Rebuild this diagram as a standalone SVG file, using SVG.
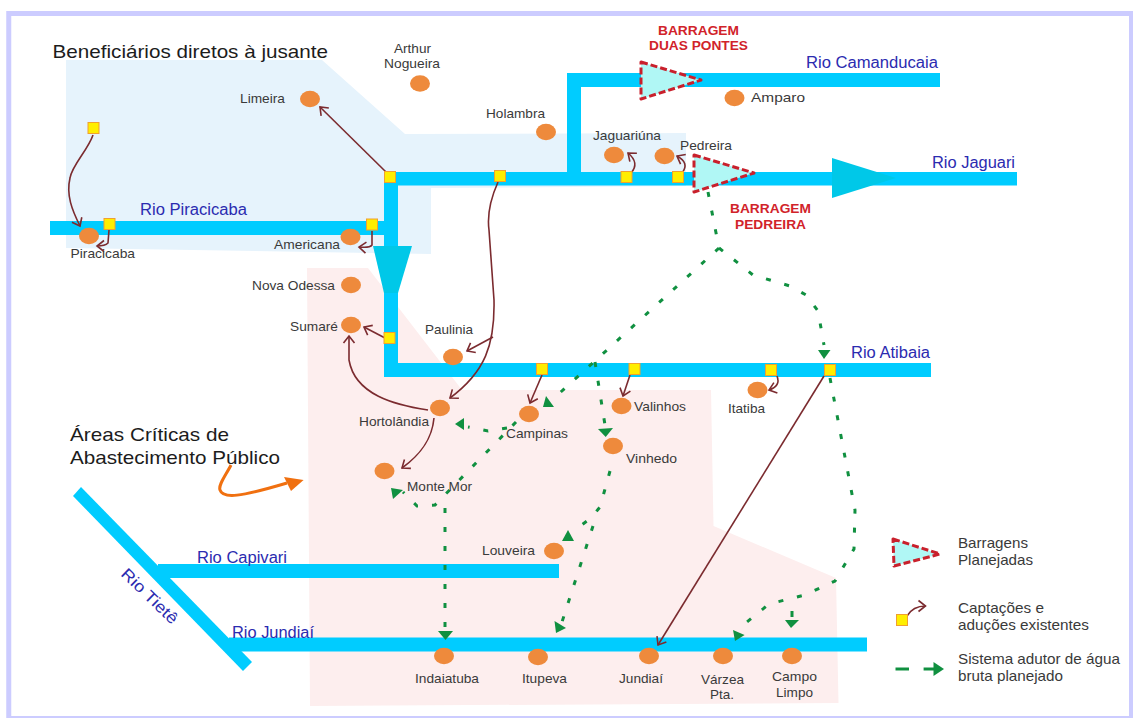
<svg xmlns="http://www.w3.org/2000/svg" width="1133" height="718" viewBox="0 0 1133 718">
<style>
text{font-family:"Liberation Sans",Arial,sans-serif}
.n{font-size:13.2px;fill:#3a3a3a}
.r{font-size:16px;fill:#2b2bb0}
.b{font-size:13px;font-weight:bold;fill:#d1232a}
.l{font-size:14.5px;fill:#3a3a3a}
.h{font-size:19px;fill:#1c1c1c}
.c{fill:#ee8a3c}
.s{fill:#ffee00;stroke:#f0a030;stroke-width:1}
.riv{fill:#00ccff}
.d{fill:#b0f7f5;stroke:#c9202c;stroke-width:3;stroke-dasharray:7 3;stroke-linejoin:round}
.a{fill:none;stroke:#7b2b2f;stroke-width:1.6;marker-end:url(#o)}
.g{fill:none;stroke:#109040;stroke-width:3;stroke-dasharray:5 14}
.gs{fill:none;stroke:#109040;stroke-width:3}
.gh{fill:#109040}
</style>
<defs>
<marker id="o" markerUnits="userSpaceOnUse" markerWidth="14" markerHeight="14" refX="12" refY="7" orient="auto">
<path d="M5 1.500L12 7L5 12.500" fill="none" stroke="#7b2b2f" stroke-width="1.6"/>
</marker>
</defs>
<rect x="0" y="0" width="1133" height="718" fill="#fff"/>
<rect x="8.750" y="13.500" width="1122.750" height="705" fill="#fff" stroke="#ccccff" stroke-width="5"/>
<g id="areas">
<polygon fill="#e6f3fc" points="66,60 322,60 405,134 686,133 686,186 431,188 431,254 66,248"/>
<polygon fill="#fdeeee" points="307,268 368,268 462,390 711,390 713.5,526 836,578 838.5,703 310,706"/>
</g>
<g id="rivers">
<rect class="riv" x="50" y="221" width="335" height="14"/>
<rect class="riv" x="384" y="172" width="633" height="13.500"/>
<rect class="riv" x="567" y="73" width="373" height="14"/>
<rect class="riv" x="567" y="73" width="14" height="102"/>
<rect class="riv" x="384" y="172" width="14" height="205"/>
<rect class="riv" x="385" y="363" width="546" height="14"/>
<polygon fill="#00c8e8" points="373,246 412,246 398,293 384,293"/>
<polygon fill="#00c8e8" points="832,158 832,198 896,178"/>
<rect class="riv" x="158" y="564" width="401" height="14"/>
<rect class="riv" x="229" y="637.500" width="638" height="14"/>
<polygon class="riv" points="73,496 81,487 252,662 243,671"/>
</g>
<g id="connectors">
<path class="a" d="M93 135C88 150 72 165 70 178C66 195 72 210 80 226"/>
<path class="a" d="M109 230L108 243Q105 246 97 246"/>
<path class="a" d="M372 231L372 245Q370 248 359 247"/>
<path class="a" d="M386 172L320 107"/>
<path class="a" d="M385 338L364 327"/>
<path class="a" d="M428 410C395 405 355 395 349 360L349 336"/>
<path class="a" d="M434 418C432 440 420 455 402 468"/>
<path class="a" d="M498 182C490 200 487 215 489 230L494 300C495 345 485 372 450 398"/>
<path class="a" d="M493 337L467 351"/>
<path class="a" d="M542 375L530 403"/>
<path class="a" d="M630 375L623 396"/>
<path class="a" d="M777 376Q781 386 769 390"/>
<path class="a" d="M631 173Q640 163 628 153"/>
<path class="a" d="M682 173Q690 163 677 156"/>
<path class="a" d="M824 376L658 645"/>
<path class="a" d="M907 616Q913 606 925.5 606"/>
<path d="M231 465C226 475 218 485 220 490C223 499 240 497 287 483" fill="none" stroke="#f07010" stroke-width="3"/>
<polygon fill="#f07010" points="303.6,480 284,477 291,491"/>
<path class="g" d="M708 192L719 248L552 400"/>
<path class="g" d="M719 248L738 263L753 275L790 286L806 295L818 311L824 345"/>
<path class="g" d="M595 362L605 425"/>
<path class="g" d="M516 422L435 505L417 506L403 492"/>
<path class="g" d="M507 428L488 431L468 427"/>
<path class="g" d="M445 508L445 632"/>
<path class="g" d="M610 471L600 507L591 518L572 532"/>
<path class="g" d="M593 526L562 622"/>
<path class="g" d="M830 378L855 510L854 549L835 581L805 595L769 604L742 626"/>
<path class="gs" d="M792 611L792 617"/>
<path class="gs" d="M895.5 669H909"/>
<path class="gs" d="M923.6 669H936"/>
<polygon class="gh" points="543,407 546,396 554,407"/>
<polygon class="gh" points="818,350 830.5,350 824,359"/>
<polygon class="gh" points="455,424 464,418 464,430"/>
<polygon class="gh" points="391,488 403,490 393,499"/>
<polygon class="gh" points="438,631 453,631 445.5,640"/>
<polygon class="gh" points="598,429 613,428 605.7,437"/>
<polygon class="gh" points="568,530 562,541 574,541"/>
<polygon class="gh" points="554.5,621 566,628 556,633"/>
<polygon class="gh" points="733,630 735,641 744.6,635"/>
<polygon class="gh" points="785,620 799,620 791,628"/>
<polygon class="gh" points="933.5,662 944,669 933.5,676"/>
</g>
<g id="intakes">
<rect class="s" x="88" y="122.500" width="11" height="11"/>
<rect class="s" x="104" y="218.500" width="11" height="11"/>
<rect class="s" x="366.500" y="219" width="11" height="11"/>
<rect class="s" x="384.500" y="171.500" width="11" height="11"/>
<rect class="s" x="494.500" y="170.500" width="11" height="11"/>
<rect class="s" x="621" y="171.500" width="11" height="11"/>
<rect class="s" x="672.500" y="171.500" width="11" height="11"/>
<rect class="s" x="384" y="332.500" width="11" height="11"/>
<rect class="s" x="536.500" y="363.500" width="11" height="11"/>
<rect class="s" x="629" y="363.500" width="11" height="11"/>
<rect class="s" x="765.500" y="364.500" width="11" height="11"/>
<rect class="s" x="824.500" y="364.500" width="11" height="11"/>
<rect class="s" x="896.500" y="614.500" width="11" height="11"/>
</g>
<g id="dam-duas-pontes">
<polygon class="d" points="641,62 701,80 641,99"/>
<text class="b" x="658" y="34.500" textLength="81" lengthAdjust="spacingAndGlyphs">BARRAGEM</text>
<text class="b" x="649" y="50" textLength="99" lengthAdjust="spacingAndGlyphs">DUAS PONTES</text>
</g>
<g id="dam-pedreira">
<polygon class="d" points="694,155 754,173 694,192"/>
<text class="b" x="730" y="213" textLength="81" lengthAdjust="spacingAndGlyphs">BARRAGEM</text>
<text class="b" x="735" y="229" textLength="71" lengthAdjust="spacingAndGlyphs">PEDREIRA</text>
</g>
<g id="node-limeira"><ellipse class="c" cx="310" cy="99" rx="10" ry="8.300"/><text class="n" x="240" y="103" textLength="45" lengthAdjust="spacingAndGlyphs">Limeira</text></g>
<g id="node-arthur-nogueira"><ellipse class="c" cx="420" cy="83.500" rx="10" ry="8.300"/><text class="n" x="394" y="53" textLength="37" lengthAdjust="spacingAndGlyphs">Arthur</text><text class="n" x="384" y="68" textLength="56" lengthAdjust="spacingAndGlyphs">Nogueira</text></g>
<g id="node-holambra"><ellipse class="c" cx="546" cy="132" rx="10" ry="8.300"/><text class="n" x="486" y="117.500" textLength="59" lengthAdjust="spacingAndGlyphs">Holambra</text></g>
<g id="node-piracicaba"><ellipse class="c" cx="89" cy="236" rx="10" ry="8.300"/><text class="n" x="70.500" y="258" textLength="64.500" lengthAdjust="spacingAndGlyphs">Piracicaba</text></g>
<g id="node-americana"><ellipse class="c" cx="350.500" cy="237" rx="10" ry="8.300"/><text class="n" x="274" y="249" textLength="66" lengthAdjust="spacingAndGlyphs">Americana</text></g>
<g id="node-nova-odessa"><ellipse class="c" cx="351" cy="285" rx="10" ry="8.300"/><text class="n" x="252" y="290" textLength="83" lengthAdjust="spacingAndGlyphs">Nova Odessa</text></g>
<g id="node-sumare"><ellipse class="c" cx="351" cy="325" rx="10" ry="8.300"/><text class="n" x="290" y="331" textLength="48" lengthAdjust="spacingAndGlyphs">Sumaré</text></g>
<g id="node-paulinia"><ellipse class="c" cx="453" cy="357" rx="10" ry="8.300"/><text class="n" x="425" y="334" textLength="48" lengthAdjust="spacingAndGlyphs">Paulinia</text></g>
<g id="node-hortolandia"><ellipse class="c" cx="440" cy="408" rx="10" ry="8.300"/><text class="n" x="359" y="426" textLength="70" lengthAdjust="spacingAndGlyphs">Hortolândia</text></g>
<g id="node-monte-mor"><ellipse class="c" cx="384.500" cy="471" rx="10" ry="8.300"/><text class="n" x="407" y="491" textLength="65" lengthAdjust="spacingAndGlyphs">Monte Mor</text></g>
<g id="node-campinas"><ellipse class="c" cx="529" cy="414" rx="10" ry="8.300"/><text class="n" x="506" y="438" textLength="62" lengthAdjust="spacingAndGlyphs">Campinas</text></g>
<g id="node-valinhos"><ellipse class="c" cx="621.500" cy="406" rx="10" ry="8.300"/><text class="n" x="634" y="411" textLength="52" lengthAdjust="spacingAndGlyphs">Valinhos</text></g>
<g id="node-vinhedo"><ellipse class="c" cx="613" cy="446" rx="10" ry="8.300"/><text class="n" x="626" y="463" textLength="51" lengthAdjust="spacingAndGlyphs">Vinhedo</text></g>
<g id="node-itatiba"><ellipse class="c" cx="757.500" cy="390" rx="10" ry="8.300"/><text class="n" x="728" y="413" textLength="37" lengthAdjust="spacingAndGlyphs">Itatiba</text></g>
<g id="node-louveira"><ellipse class="c" cx="554" cy="551" rx="10" ry="8.300"/><text class="n" x="482" y="555" textLength="53" lengthAdjust="spacingAndGlyphs">Louveira</text></g>
<g id="node-indaiatuba"><ellipse class="c" cx="444" cy="656" rx="10" ry="8.300"/><text class="n" x="415" y="683" textLength="64" lengthAdjust="spacingAndGlyphs">Indaiatuba</text></g>
<g id="node-itupeva"><ellipse class="c" cx="538" cy="657" rx="10" ry="8.300"/><text class="n" x="522" y="683" textLength="45" lengthAdjust="spacingAndGlyphs">Itupeva</text></g>
<g id="node-jundiai"><ellipse class="c" cx="649" cy="656" rx="10" ry="8.300"/><text class="n" x="619" y="683" textLength="44" lengthAdjust="spacingAndGlyphs">Jundiaí</text></g>
<g id="node-varzea-pta"><ellipse class="c" cx="723" cy="656" rx="10" ry="8.300"/><text class="n" x="701" y="683.500" textLength="43" lengthAdjust="spacingAndGlyphs">Várzea</text><text class="n" x="710" y="698.500" textLength="24" lengthAdjust="spacingAndGlyphs">Pta.</text></g>
<g id="node-campo-limpo"><ellipse class="c" cx="792" cy="656" rx="10" ry="8.300"/><text class="n" x="772" y="681" textLength="45" lengthAdjust="spacingAndGlyphs">Campo</text><text class="n" x="776" y="697" textLength="37" lengthAdjust="spacingAndGlyphs">Limpo</text></g>
<g id="node-amparo"><ellipse class="c" cx="734.500" cy="98" rx="10" ry="8.300"/><text class="n" x="751" y="102" textLength="54" lengthAdjust="spacingAndGlyphs">Amparo</text></g>
<g id="node-jaguariuna"><ellipse class="c" cx="614" cy="155" rx="10" ry="8.300"/><text class="n" x="593" y="140" textLength="68" lengthAdjust="spacingAndGlyphs">Jaguariúna</text></g>
<g id="node-pedreira"><ellipse class="c" cx="664.500" cy="156" rx="10" ry="8.300"/><text class="n" x="680" y="150" textLength="52" lengthAdjust="spacingAndGlyphs">Pedreira</text></g>
<g id="river-labels">
<text class="r" x="140" y="215" textLength="107" lengthAdjust="spacingAndGlyphs">Rio Piracicaba</text>
<text class="r" x="806" y="68" textLength="132" lengthAdjust="spacingAndGlyphs">Rio Camanducaia</text>
<text class="r" x="932" y="167.500" textLength="83" lengthAdjust="spacingAndGlyphs">Rio Jaguari</text>
<text class="r" x="851" y="358" textLength="79" lengthAdjust="spacingAndGlyphs">Rio Atibaia</text>
<text class="r" x="197" y="563" textLength="90" lengthAdjust="spacingAndGlyphs">Rio Capivari</text>
<text class="r" x="232" y="638" textLength="82" lengthAdjust="spacingAndGlyphs">Rio Jundiaí</text>
<text class="r" transform="translate(120 575) rotate(44)" textLength="72" lengthAdjust="spacingAndGlyphs">Rio Tietê</text>
</g>
<g id="headings">
<text class="h" x="52.500" y="58" textLength="275.500" lengthAdjust="spacingAndGlyphs">Beneficiários diretos à jusante</text>
<text class="h" x="70" y="440.500" textLength="159" lengthAdjust="spacingAndGlyphs">Áreas Críticas de</text>
<text class="h" x="70" y="463.500" textLength="210" lengthAdjust="spacingAndGlyphs">Abastecimento Público</text>
</g>
<g id="legend">
<polygon class="d" points="893,539 940,554 894,566"/>
<text class="l" x="958" y="548" textLength="70" lengthAdjust="spacingAndGlyphs">Barragens</text>
<text class="l" x="958" y="565" textLength="75" lengthAdjust="spacingAndGlyphs">Planejadas</text>
<text class="l" x="958" y="613" textLength="86" lengthAdjust="spacingAndGlyphs">Captações e</text>
<text class="l" x="958" y="630" textLength="131" lengthAdjust="spacingAndGlyphs">aduções existentes</text>
<text class="l" x="958" y="664" textLength="162" lengthAdjust="spacingAndGlyphs">Sistema adutor de água</text>
<text class="l" x="958" y="681" textLength="105" lengthAdjust="spacingAndGlyphs">bruta planejado</text>
</g>
</svg>
